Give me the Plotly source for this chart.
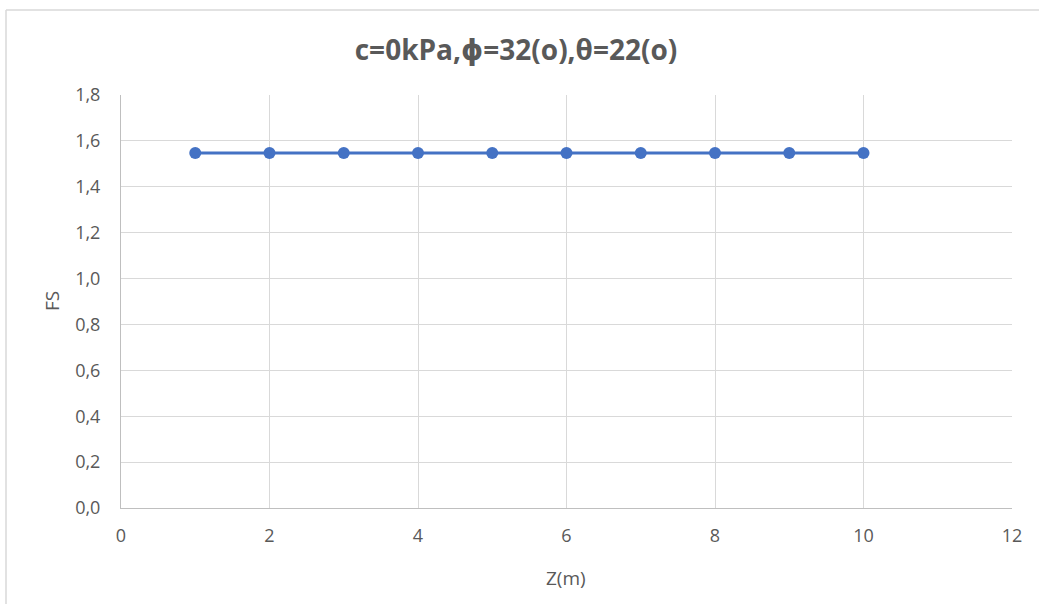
import plotly.graph_objects as go

# Factor of safety along depth for a dry cohesionless infinite slope
depth_m = [1, 2, 3, 4, 5, 6, 7, 8, 9, 10]
fs_values = [1.547, 1.547, 1.547, 1.547, 1.547, 1.547, 1.547, 1.547, 1.547, 1.547]

x_ticks = [0, 2, 4, 6, 8, 10, 12]
y_ticks = [0.0, 0.2, 0.4, 0.6, 0.8, 1.0, 1.2, 1.4, 1.6, 1.8]

W, H = 1039, 604
L, R, T, B = 121, 27, 95, 96
pw, ph = W - L - R, H - T - B

def px_x(p):
    return (p - L) / pw

def px_y(p):
    return (H - B - p) / ph

text_color = "#595959"
grid_color = "#D9D9D9"
font_family = "Open Sans, DejaVu Sans, sans-serif"

fig = go.Figure(
    go.Scatter(
        x=depth_m,
        y=fs_values,
        mode="lines+markers",
        line=dict(color="#4472C4", width=3),
        marker=dict(color="#4472C4", size=12),
        showlegend=False,
    )
)

fig.update_layout(
    width=W,
    height=H,
    margin=dict(l=L, r=R, t=T, b=B),
    paper_bgcolor="white",
    plot_bgcolor="white",
    separators=",.",
    font=dict(family=font_family, color=text_color, size=18),
    title=dict(
        text="<b>c=0kPa,ϕ=32(o),θ=22(o)</b>",
        font=dict(family=font_family, size=28, color=text_color),
        x=(516 / W),
        xanchor="center",
        xref="container",
        y=1 - 50 / H,
        yanchor="middle",
        yref="container",
    ),
    xaxis=dict(
        range=[0, 12],
        tickvals=x_ticks,
        tickformat="d",
        showgrid=True,
        gridcolor=grid_color,
        gridwidth=1,
        showline=True,
        linecolor="#BFBFBF",
        linewidth=1,
        zeroline=False,
        ticks="",
        ticklabelstandoff=11,
        tickfont=dict(size=18, color=text_color),
    ),
    yaxis=dict(
        range=[0, 1.8],
        tickvals=y_ticks,
        tickformat=".1f",
        showgrid=True,
        gridcolor=grid_color,
        gridwidth=1,
        showline=True,
        linecolor="#BFBFBF",
        linewidth=1,
        zeroline=False,
        ticks="",
        ticklabelstandoff=16,
        tickfont=dict(size=18, color=text_color),
    ),
    annotations=[
        dict(
            text="Z(m)",
            xref="paper", yref="paper",
            x=px_x(566), y=px_y(578),
            xanchor="center", yanchor="middle",
            showarrow=False,
            font=dict(size=19, color=text_color),
        ),
        dict(
            text="FS",
            xref="paper", yref="paper",
            x=px_x(52), y=px_y(301),
            xanchor="center", yanchor="middle",
            textangle=-90,
            showarrow=False,
            font=dict(size=19, color=text_color),
        ),
    ],
    shapes=[
        # chart frame (top and left edges)
        dict(type="line", xref="paper", yref="paper",
             x0=px_x(6), x1=px_x(W + 2), y0=px_y(10), y1=px_y(10),
             line=dict(color="#D9D9D9", width=1.5)),
        dict(type="line", xref="paper", yref="paper",
             x0=px_x(6), x1=px_x(6), y0=px_y(10), y1=px_y(H + 2),
             line=dict(color="#D9D9D9", width=1.5)),
    ],
)

fig.write_html("out.html")
